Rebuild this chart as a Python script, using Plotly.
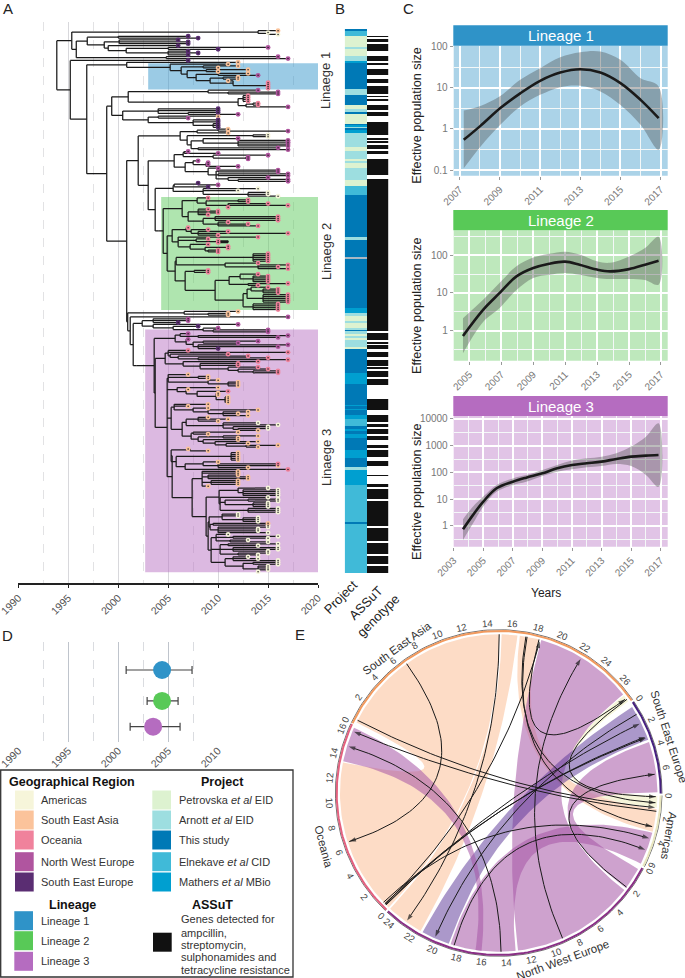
import re, math
import numpy as np
import plotly.graph_objects as go

W, H = 685, 978
FONT = "Liberation Sans"

# ---------------- colours ----------------
REGION_COL = {"A": "#F6F5DA", "S": "#FBC39B", "O": "#F0829C", "N": "#B0559F", "E": "#5A2D72"}
REGION_RIB = {"A": "rgba(243,241,205,0.75)", "S": "rgba(251,178,130,0.46)", "O": "rgba(240,130,156,0.5)",
              "N": "rgba(165,85,165,0.55)", "E": "rgba(88,50,150,0.5)"}
REGION_RIM = {"SEA": "#F29A5E", "SEE": "#46207E", "AME": "#E9E6BE", "NWE": "#8A2F86", "OCE": "#E4617F"}
LINEAGE_COL = ["#2F93C8", "#58C957", "#B56CC0"]
LINEAGE_BG = ["#ABD3E8", "#BEE8BC", "#E1C4E6"]

# ---------------- A: tree (tips = region letter + year since 2000; nodes = year) ----------------
G0 = "((S16,(A15,A16)2015)2014,(((E07,E08)2000,((E06,E07,E07)2000.1,(E06,((N15,E10)2005,(E07,E08,E07)2005)2000.8)1999)1998.6)1996.9,(N16,N17)2004.8)1995.8)1995.35"
L1 = "(S12,(S11,((S12,S10)2008.5,((S13,S10)2008.8,((S13,N14)2010,((S12,S12)2010.5,(S11,(O15,O15,O15,O15)2015)2011.5)2009.2)2007.8)2006.9)2006.3)2005.2)2000.85L1"
SUB_A = "((N14,(N16,N16)2011)2009,((O13,O13,O13,O13)2012.5,((O14,O14)2013.5,N17)2012.8)2012)2001"
SUB_B = "((E10,E10,(E10,N12)2007)2004,((S10,N07)2004,(E10,E10,(E10,E10,E10)2009.5)2007.5)2003)2000.45"
CL_C = "(((S11,N17)2010,S11)2007.9,((A15,A15)2013.5,((N12,(N17,N17,N17,N17)2012)2008.5,(N16,N17)2008)2007.3)2006.9)2006.2"
CL_D = "(((N07,N10)2006.6,(N15,(N13,N13)2012.8)2009.5)2006.5,((N08,(N09,N09,N12)2008.8)2007.5,(N10,((N16,N16)2010,(N17,N17)2010,(N15,(N17,N17)2012)2011)2009.8)2009)2006.7)2005.6"
CL_E = "(((E08,N10)2008,E09)2005.6,(A14,A12,(A15,A15,A16)2013)2008.5)2005.5"
L2_A = "((O09,((O13,O13)2012,(O15,O17,O11)2011)2008.8)2007.9,((O09,O10,O10,O09)2008,((O16,O16,O16)2009.7,(O11,O13,O14)2010)2008.5)2007)2006.4"
L2_B1 = "((O07,(O09,(O11,O17,O10)2008)2007.3)2006.8,(O14,(O09,(O10,O10)2011)2007.8,(O09,((O11,O11)2011,(O10,O10)2009)2008.7)2007.2)2006)2005.4"
L2_B2 = "((O15,O15,O15,O15,O15)2013.5,(O14,(O17,O16,O17)2014)2010.7)2005.8"
L2_C1 = "((O14,(O15,O15,O15,O15)2013.5)2012.2,(O17,O14)2013)2011.1"
L2_C2 = "(((O15,(O16,O16,O16)2014.5)2013.3,(O17,O17,O17,O17,O17)2014.5)2012.9,(O16,O16,O16,O16)2013.5)2012.5"
F_TOP = "(S12,(S11,S11)2009)2006.6"
F_B = "((N07,N07,E06)2003.5,(N12,(E08,(N10,(N15,N15)2009.5)2008.5)2005.5)2003.5)2002.4"
P1 = "((N07,(N17,N16)2008)2006.2,(N07,((N14,N12)2008.5,(N17,N16,E10)2008)2007.5)2006.8)2005.7"
P2 = "((O07,O17,(O11,(O13,(O15,O17)2008)2006)2005.2)2005,(O14,(O12,O12,(O14,(O15,(O16,O16)2013.5)2012)2011)2008.2)2006.5)2004.7"
P3A = "(S07,(S09,S09)2008,(S10,(S12,S12,S12)2011)2009)2005"
P3B = "(S10,(S07,(O11,(S10,S10,(S11,S11,S11,S11)2010.7)2009.8)2007.9)2006.8)2005.9"
P3C = "((S09,S07,(S09,(S14,(S13,S12,S13)2010.5)2009)2007.5)2005.6,(((S09,S11,S10)2008,(A14,A16,(A15,(A15,S14)2012)2011.5)2010.5)2006.8,((S12,S09)2007.5,((S14,S12)2010.5,(S12,(S14,(S13,(S16,S14)2012.8)2010.8)2009.7)2008.5)2008)2007.3)2006.4)2005.3"
P3D1 = "((S07,S09)2007.2,((S12,S12,S12,S12,S12)2011.3,((S10,(O16,S16,S13)2010)2008.5,O17)2006.7)2005.8)2005.3"
P3D2 = "(S12,S12,(S12,S13,S13)2009,(S12,S12,S12)2009.3,S09)2008.4"
A_A = "((A15,(A16,A16,A16,A16)2012.5)2012,(A15,((A16,A16)2013,(A15,A15,A15)2013.5)2010.7,(A16,A16,A16)2013)2010.2)2010.1"
A_B = "((A12,A12,(A14,A14,A14)2012.5)2010.4,((S15,A15)2009.5,(A15,A14,A14,A15)2010)2009.2)2009.1"
A_C = "((A11,(A16,A15)2011.5,(A13,A15)2011.2)2009.8,((A16,A14)2011,(A16,A16,A15)2011.5,(A15,A14)2012)2010.2,((A13,A14,A16)2011.5,((A16,A16)2013.5,(A15,A15,A15,A14)2014)2012.5)2010.7)2009.3"

L2_NODE = f"({L2_A},({L2_B1},({L2_B2},((O09,O09)2007.6,({L2_C1},{L2_C2})2009.7)2006.7)2005.7)2004.9)2004.5L2"
N465 = f"({CL_E},({L2_NODE})2004)2003.7"
N445 = f"({CL_D},{N465})2003"
N415 = f"({CL_C},{N445})2002"
P3D = f"({P3D1},({P3D2},({A_A},({A_B},{A_C})2009)2008.8)2007.4)2005.4"
P3 = f"({P3A},{P3B},{P3C},{P3D})2004.9"
L3_NODE = f"({P1},({P2},{P3})2003.7)2003.6L3"
N_LOWER = f"({F_TOP},(N17,({F_B},({L3_NODE})2001.8)2001.5)2001.2)2000.95"
TRUNK = f"({N415},{N_LOWER})2000.85"
N320 = f"(({SUB_A},{SUB_B})1999.35,{TRUNK})1998.85"
N260 = f"({L1},{N320})1996.85"
TREE = f"({G0},(E07,{N260})1995.2)1993.85"
LINEAGE_START = {"L1": 2003.0, "L2": 2004.3, "L3": 2002.7}
LINEAGE_PAD = {"L1": (-0.5, 0.6), "L2": (0.5, 0.2), "L3": (2.2, 0.3)}

# ---------------- B: strips (run ends along the tree) ----------------
PROJECT_CODE = ["T","E","P","A","P","A","M","T","A","T","P","A","T","P","T","M","A","T","M","A",
                "P","A","P","A","P","A","P","E","T","A","T","X","T"]
PROJECT_END = [33, 48, 82, 88, 108, 122, 128, 208, 224, 256, 268, 276, 282, 312, 316, 320, 325, 330, 338, 382,
               392, 418, 422, 428, 444, 480, 497, 524, 650, 660, 712, 718, 865]
PROJECT_CODE2 = ["M","A","P","A","P","A","T","A","P","A","P","A","P","T","M","T","M","T","M","T","M","E","T","M","T","M","T","M","T","A","M","E","T","E"]
PROJECT_END2 = [880, 888, 905, 910, 925, 932, 935, 942, 948, 955, 962, 982, 987, 1060, 1092, 1155, 1160, 1168, 1172,
                1186, 1197, 1218, 1228, 1233, 1242, 1255, 1292, 1314, 1342, 1350, 1397, 1506, 1512, 1660]
ASSUT_END = [48, 52, 58, 65, 71, 92, 108, 123, 128, 135, 146, 165, 176, 188, 197, 222, 228, 232, 238, 243, 255, 270,
             276, 287, 307, 344, 354, 359, 364, 370, 376, 387, 392, 403, 418, 465, 476, 933, 940, 960, 966, 972, 977,
             987, 997, 1013, 1020, 1038, 1043, 1048, 1055, 1072, 1078, 1096, 1138, 1170, 1187, 1207, 1214, 1222, 1229,
             1244, 1250, 1260, 1276, 1286, 1292, 1312, 1323, 1339, 1365, 1370, 1392, 1402, 1409, 1438, 1445, 1518,
             1524, 1565, 1571, 1603, 1609, 1634, 1640, 1660]

# ---------------- C: skyline curves ----------------
C1_YEAR = [2007.2, 2008.03, 2009.02, 2010.01, 2011, 2012, 2013, 2014, 2015, 2016, 2016.9]
C1_MED = [0.54, 1.18, 3.2, 7.3, 14.7, 23.3, 28.1, 23.3, 12.9, 5.06, 1.82]
C1_UP = [2.79, 3.6, 6.3, 15.5, 29.8, 55, 72.9, 75.7, 47.4, 17, 10.7]
C1_LOW = [0.11, 0.37, 1.25, 3.5, 6.7, 10.3, 11.1, 8.1, 3.8, 1.25, 0.31]
C2_YEAR = [2004.6, 2005.86, 2006.9, 2007.95, 2009, 2010, 2011, 2011.9, 2013, 2013.8, 2015, 2016, 2016.85]
C2_MED = [0.72, 3.56, 10, 27.6, 46, 60, 68, 56.5, 41.7, 37.4, 43, 56.5, 72]
C2_UP = [2.14, 6.6, 18.6, 51, 87, 110, 125, 105, 69, 63, 93, 157, 310]
C2_LOW = [0.25, 1.7, 4, 12, 25, 30.5, 34, 30.5, 25, 23.4, 23.4, 22, 16.6]
C3_YEAR = [2003.63, 2004.31, 2005, 2005.9, 2007, 2007.9, 2009, 2010, 2011, 2012, 2013, 2014, 2015, 2016, 2016.85]
C3_MED = [0.75, 2.6, 8.1, 25.6, 45, 64, 93, 144, 190, 220, 254, 320, 390, 425, 450]
C3_UP = [1.8, 5.3, 12.5, 34, 60, 80, 124, 190, 277, 338, 390, 523, 926, 2180, 6900]
C3_LOW = [0.3, 1.26, 5.3, 19, 34, 45, 74, 107, 131, 155, 175, 208, 175, 81, 29]

# ---------------- D: tMRCA ----------------
D_NAMES = ["Lineage 1", "Lineage 2", "Lineage 3"]
D_MEAN = [2004.4, 2004.4, 2003.5]
D_LOW = [2000.8, 2002.9, 2001.2]
D_HIGH = [2007.4, 2006.0, 2006.2]
D_ROW = [0, 1.09, 2.0]

# ---------------- E: chord ----------------
SECTORS = ["SEA", "SEE", "AME", "NWE", "OCE"]
SECTOR_LEN = {"SEA": 27.2, "SEE": 7.8, "AME": 5.9, "NWE": 24.0, "OCE": 16.2}
SECTOR_TICK_MAX = {"SEA": 26, "SEE": 6, "AME": 6, "NWE": 24, "OCE": 16}
TICK_DEG = {"SEA": 4.33, "SEE": 4.24, "AME": 4.05, "NWE": 4.27, "OCE": 4.28}
SECTOR_LABEL = {"SEA": ("South East Asia", 6.7, 1.084, -36), "SEE": ("South East Europe", 3.6, 1.10, 72),
                "AME": ("Americas", 3.0, 1.075, 100), "NWE": ("North West Europe", 9.4, 1.096, -20),
                "OCE": ("Oceania", 6.6, 1.12, 75)}
RIBBONS = [("SEA", 0.2, 14.7, "OCE", 0.0, 13.0, "S"),
           ("SEA", 14.9, 16.2, "NWE", 20.9, 24.0, "S"),
           ("SEA", 16.4, 18.0, "AME", 1.1, 3.0, "S"),
           ("SEA", 26.5, 27.1, "AME", 0.0, 1.0, "A"),
           ("SEA", 18.2, 26.4, "NWE", 2.3, 12.6, "N"),
           ("SEE", 3.5, 7.7, "NWE", 0.2, 2.1, "N"),
           ("AME", 3.1, 5.8, "NWE", 12.8, 18.2, "N"),
           ("SEE", 0.3, 3.3, "NWE", 18.3, 20.7, "E"),
           ("NWE", 15.6, 16.1, "OCE", 13.1, 16.0, "N")]
LINKS = [("SEA", 6.6, "OCE", 6.4), ("SEA", 0.4, "AME", 1.0), ("AME", 1.3, "OCE", 15.7), ("NWE", 14.0, "OCE", 14.4),
         ("SEA", 14.7, "NWE", 22.3), ("OCE", 0.4, "SEA", 18.1), ("SEA", 17.0, "AME", 2.6), ("NWE", 8.8, "SEA", 21.8),
         ("SEA", 18.0, "SEA", 26.8), ("OCE", 0.35, "SEE", 3.0), ("OCE", 0.45, "SEE", 3.1), ("OCE", 0.3, "SEE", 1.8),
         ("NWE", 2.0, "SEE", 6.2), ("SEA", 26.9, "AME", 0.1), ("SEE", 1.0, "NWE", 19.6), ("OCE", 0.6, "AME", 3.6),
         ("NWE", 17.9, "AME", 4.6), ("SEA", 16.9, "AME", 0.6)]

# ---------------- legend text ----------------
LEG_REGION = [("Americas", "A"), ("South East Asia", "S"), ("Oceania", "O"), ("North West Europe", "N"), ("South East Europe", "E")]
LEG_PROJECT = [("Petrovska <i>et al</i> EID", "P"), ("Arnott <i>et al</i> EID", "A"), ("This study", "T"),
               ("Elnekave <i>et al</i> CID", "E"), ("Mathers <i>et al</i> MBio", "M")]
ASSUT_LINES = ["Genes detected for", "ampcillin,", "streptomycin,", "sulphonamides and", "tetracycline resistance"]
PROJECT_COL = {"P": "#DDF2D0", "A": "#9DDEE0", "T": "#0079B6", "E": "#40BAD8", "M": "#009FD0", "X": "#A9B8C4"}


def px(x): return x / W
def py(y): return 1 - y / H
def xdom(a, b): return [px(a), px(b)]
def ydom(t, b): return [py(b), py(t)]


# ---------- tree parser / layout ----------
def parse(s):
    pos = 0

    def node():
        nonlocal pos
        if s[pos] == "(":
            pos += 1
            kids = [node()]
            while s[pos] == ",":
                pos += 1
                kids.append(node())
            pos += 1
            m = re.match(r"(\d{4}(?:\.\d+)?)(L\d)?", s[pos:])
            pos += m.end()
            return dict(year=float(m.group(1)), tag=m.group(2), kids=kids)
        reg, yr = s[pos], int(s[pos + 1:pos + 3])
        pos += 3
        return dict(year=2000 + yr, region=reg, kids=[], tag=None)

    return node()


root = parse(TREE)
tips, lx, ly, tags = [], [], [], {}


def place(n):
    if not n["kids"]:
        n["y"] = len(tips)
        n["rows"] = (n["y"], n["y"])
        tips.append(n)
    else:
        for k in n["kids"]:
            place(k)
        n["y"] = (n["kids"][0]["y"] + n["kids"][-1]["y"]) / 2
        n["rows"] = (n["kids"][0]["rows"][0], n["kids"][-1]["rows"][1])
        if n["tag"]:
            tags[n["tag"]] = n["rows"]


def segs(n, parent_year=None):
    if parent_year is not None:
        lx.extend([parent_year, n["year"], None])
        ly.extend([n["y"], n["y"], None])
    if n["kids"]:
        lx.extend([n["year"], n["year"], None])
        ly.extend([n["kids"][0]["y"], n["kids"][-1]["y"], None])
        for k in n["kids"]:
            segs(k, n["year"])


place(root)
segs(root)
NT = len(tips)
row_px = (571.67 - 30.67) / (NT - 1)
TREE_TOP, TREE_BOT = 22.0, 583.0
tree_range = [(TREE_BOT - 30.67) / row_px, (TREE_TOP - 30.67) / row_px]

fig = go.Figure()
shapes, annos = [], []
layout = {}


def label(x, y, text, size=11, color="#333", angle=0, xanchor="center", yanchor="middle", bold=False):
    annos.append(dict(xref="paper", yref="paper", x=px(x), y=py(y), text=f"<b>{text}</b>" if bold else text,
                      showarrow=False, font=dict(size=size, color=color, family=FONT), textangle=angle,
                      xanchor=xanchor, yanchor=yanchor))


def paper_rect(x0, y0, x1, y1, fill, line=None, lw=0, layer="above"):
    shapes.append(dict(type="rect", xref="paper", yref="paper", x0=px(x0), x1=px(x1), y0=py(y0), y1=py(y1),
                       fillcolor=fill, line=dict(color=line or fill, width=lw), layer=layer))


BLANK = dict(showgrid=False, zeroline=False, showticklabels=False, ticks="", showline=False, fixedrange=True)
TICKFONT = dict(size=10.5, color="#555", family=FONT)

# ----- Panel A -----
layout["xaxis"] = dict(domain=xdom(18.33, 318), range=[1990, 2020], tick0=1990, dtick=5, showgrid=True,
                       gridcolor="#D8D8DC", gridwidth=1.4, griddash="solid", zeroline=False,
                       showline=True, linecolor="#222", linewidth=1.6, ticks="outside", ticklen=3, tickcolor="#222",
                       tickangle=-45, tickfont=TICKFONT, anchor="y", ticklabeloverflow="allow",
                       minor=dict(dtick=2.5, tick0=1990, showgrid=True, gridcolor="#E2E2E4", griddash="dash", gridwidth=1, ticks=""))
layout["yaxis"] = dict(BLANK, domain=ydom(TREE_TOP, TREE_BOT), range=tree_range, anchor="x")
for i, tag in enumerate(["L1", "L2", "L3"]):
    r0, r1 = tags[tag]
    pt, pb = LINEAGE_PAD[tag]
    shapes.append(dict(type="rect", xref="x", yref="y", x0=LINEAGE_START[tag], x1=2020, y0=r0 - pt, y1=r1 + pb,
                       fillcolor=LINEAGE_COL[i], opacity=0.48, line=dict(width=0), layer="between"))
fig.add_trace(go.Scatter(x=lx, y=ly, mode="lines", line=dict(color="#1a1a1a", width=1.25), hoverinfo="skip", showlegend=False))
for reg, col in REGION_COL.items():
    t = [n for n in tips if n["region"] == reg]
    fig.add_trace(go.Scatter(x=[n["year"] for n in t], y=[n["y"] for n in t], mode="markers",
                             marker=dict(size=4.8, color=col, line=dict(width=0)), hoverinfo="skip", showlegend=False))
fig.add_trace(go.Scatter(x=[n["year"] for n in tips], y=[n["y"] for n in tips], mode="markers",
                         marker=dict(size=1.5, color="#222"), hoverinfo="skip", showlegend=False))
label(326, 81, "Linaege 1", 13, "#333", -90)
label(326, 252, "Linaege 2", 13, "#333", -90)
label(326, 458, "Linaege 3", 13, "#333", -90)

# ----- Panel B -----
CODE_VAL = {"W": 0, "P": 1, "A": 2, "T": 3, "E": 4, "M": 5, "K": 6, "X": 7}
ST_TOP, ST_BOT = 27, 1660
proj = np.zeros(ST_BOT - ST_TOP, dtype=int)
start = 28
for c, e in zip(PROJECT_CODE + PROJECT_CODE2, PROJECT_END + PROJECT_END2):
    proj[start - ST_TOP:e - ST_TOP] = CODE_VAL[c]
    start = e
ass = np.zeros(ST_BOT - ST_TOP, dtype=int)
start, black = 28, False
for e in ASSUT_END:
    if black:
        ass[start - ST_TOP:e - ST_TOP] = CODE_VAL["K"]
    start, black = e, not black
cols = ["#FFFFFF", PROJECT_COL["P"], PROJECT_COL["A"], PROJECT_COL["T"], PROJECT_COL["E"], PROJECT_COL["M"], "#111111", PROJECT_COL["X"]]
cs = []
for i, c in enumerate(cols):
    cs += [[i / 8, c], [(i + 1) / 8, c]]
fig.add_trace(go.Heatmap(z=np.column_stack([proj, ass]), x=[0, 1], y=np.arange(ST_TOP, ST_BOT) + 0.5, zmin=0, zmax=8,
                         colorscale=cs, showscale=False, hoverinfo="skip", xaxis="x2", yaxis="y2"))
layout["xaxis2"] = dict(BLANK, domain=xdom(344.7, 388.3), range=[-0.5, 1.5], anchor="y2")
layout["yaxis2"] = dict(BLANK, domain=ydom(20 + ST_TOP / 3, 20 + ST_BOT / 3), range=[ST_BOT, ST_TOP], anchor="x2")
label(340, 597, "Project", 13, "#222", -45)
label(365, 603, "ASSuT", 13, "#222", -45)
label(378, 615, "genotype", 13, "#222", -45)

# ----- Panel C -----
C_PANELS = [
    dict(t=45.7, b=175.7, head=(25.3, 45.7), xr=[2006.7, 2017.35], t0=2007, yr=[-1.138, 2.02], ticks=[0.1, 1, 10, 100], yr_pos=115.7,
         year=C1_YEAR, med=C1_MED, up=C1_UP, low=C1_LOW),
    dict(t=230.2, b=360.7, head=(210, 230.2), xr=[2004.02, 2017.42], t0=2005, yr=[-0.8, 2.667], ticks=[1, 10, 100], yr_pos=306,
         year=C2_YEAR, med=C2_MED, up=C2_UP, low=C2_LOW),
    dict(t=416, b=546.7, head=(396, 416), xr=[2003, 2017.47], t0=2003, yr=[-0.775, 4.11], ticks=[1, 10, 100, 1000, 10000], yr_pos=492,
         year=C3_YEAR, med=C3_MED, up=C3_UP, low=C3_LOW)]
for i, p in enumerate(C_PANELS):
    n = i + 3
    xa, ya = f"x{n}", f"y{n}"
    layout[f"xaxis{n}"] = dict(domain=xdom(453.7, 667.7), range=p["xr"], tick0=p["t0"], dtick=2, showgrid=True, gridcolor="#FFFFFF",
                               gridwidth=1.6, zeroline=False, ticks="outside", ticklen=3, tickcolor="#999", tickangle=-45,
                               tickfont=dict(size=10, color="#777", family=FONT), anchor=ya, ticklabeloverflow="allow",
                               minor=dict(dtick=1, tick0=p["t0"], showgrid=True, gridcolor="#F4F8F8", gridwidth=1, ticks=""))
    half = [10 ** (math.log10(v) + 0.5) for v in p["ticks"]] + [p["ticks"][0] / 10 ** 0.5]
    layout[f"yaxis{n}"] = dict(domain=ydom(p["t"], p["b"]), type="log", range=p["yr"], tickmode="array", tickvals=p["ticks"],
                               ticktext=[f"{v:g}" for v in p["ticks"]], showgrid=True, gridcolor="#FFFFFF", gridwidth=1.6,
                               zeroline=False, ticks="outside", ticklen=3, tickcolor="#999",
                               tickfont=dict(size=10, color="#777", family=FONT), anchor=xa,
                               minor=dict(tickmode="array", tickvals=half, showgrid=True, gridcolor="#F4F8F8", gridwidth=1, ticks=""))
    shapes.append(dict(type="rect", xref="paper", yref="paper", x0=px(453.7), x1=px(667.7), y0=py(p["b"]), y1=py(p["t"]),
                       fillcolor=LINEAGE_BG[i], line=dict(width=0), layer="below"))
    paper_rect(453.3, p["head"][0], 667.7, p["head"][1], LINEAGE_COL[i])
    label(560.5, (p["head"][0] + p["head"][1]) / 2, f"Lineage {i + 1}", 15, "#FFFFFF")
    label(417, p["yr_pos"], "Effective population size", 12.7, "#222", -90)
    fig.add_trace(go.Scatter(x=p["year"] + p["year"][::-1], y=p["up"] + p["low"][::-1], fill="toself", mode="lines",
                             line=dict(width=0, shape="spline"), fillcolor="rgba(70,70,70,0.36)", hoverinfo="skip",
                             showlegend=False, xaxis=xa, yaxis=ya))
    fig.add_trace(go.Scatter(x=p["year"], y=p["med"], mode="lines", line=dict(color="#1a1a1a", width=2.6, shape="spline"),
                             hoverinfo="skip", showlegend=False, xaxis=xa, yaxis=ya))
label(546, 592.7, "Years", 12, "#222")

# ----- Panel D -----
layout["xaxis6"] = dict(domain=xdom(18.33, 218), range=[1990, 2010], tick0=1990, dtick=5, showgrid=True, gridcolor="#BFC4CC",
                        gridwidth=1.2, zeroline=False, showline=False, ticks="", tickangle=-45, tickfont=TICKFONT, anchor="y6",
                        ticklabeloverflow="allow",
                        minor=dict(dtick=2.5, tick0=1990, showgrid=True, gridcolor="#DADCE0", griddash="dash", gridwidth=1, ticks=""))
layout["yaxis6"] = dict(BLANK, domain=ydom(642, 741.7), range=[2.53, -0.988], anchor="x6")
fig.add_trace(go.Scatter(x=D_MEAN, y=D_ROW, mode="markers",
                         error_x=dict(type="data", symmetric=False, array=[h - m for h, m in zip(D_HIGH, D_MEAN)],
                                      arrayminus=[m - l for l, m in zip(D_LOW, D_MEAN)], color="#444", thickness=1.2, width=4),
                         marker=dict(size=18, color=LINEAGE_COL, line=dict(width=0)), text=D_NAMES, hoverinfo="skip",
                         showlegend=False, xaxis="x6", yaxis="y6"))

# ----- Legend box -----
paper_rect(0.7, 770, 293, 977, "rgba(0,0,0,0)", "#333", 1.3)
label(72, 781.7, "Geographical Region", 12.5, "#111", bold=True)
label(222, 781.7, "Project", 12.5, "#111", bold=True)
label(72, 905.3, "Lineage", 12.5, "#111", bold=True)
label(213, 905.3, "ASSuT", 12.5, "#111", bold=True)
REG_Y = [800, 820, 840, 861.7, 882]
for (txt, code), yy in zip(LEG_REGION, REG_Y):
    paper_rect(15, yy - 9.5, 33.7, yy + 9.5, REGION_COL[code])
    label(39, yy, txt, 11, "#333", xanchor="left")
for (txt, code), yy in zip(LEG_PROJECT, REG_Y):
    paper_rect(152.3, yy - 9.5, 171, yy + 9.5, PROJECT_COL[code])
    label(177, yy, txt, 11, "#333", xanchor="left")
for i, yy in enumerate([920.7, 940.7, 961.3]):
    paper_rect(14.3, yy - 9.5, 33, yy + 9.5, LINEAGE_COL[i])
    label(39, yy, D_NAMES[i], 11, "#333", xanchor="left")
paper_rect(153, 932.7, 171.7, 951.7, "#111111")
for txt, yy in zip(ASSUT_LINES, [919.3, 932.7, 945, 957.3, 970]):
    label(179.3, yy, txt, 11, "#333", xanchor="left")

# ----- Panel E -----
DEG = 4.4
GAP = 0.7
sec_start, th = {}, 295.5
for s in SECTORS:
    sec_start[s] = th
    th += SECTOR_LEN[s] * DEG + GAP


def polar(sec, pos, r, deg=DEG):
    a = math.radians(sec_start[sec] + pos * deg)
    return r * math.sin(a), r * math.cos(a)


def arc(sec, p0, p1, r, n=40):
    pts = [polar(sec, v, r) for v in np.linspace(p0, p1, n)]
    return [q[0] for q in pts], [q[1] for q in pts]


def bez(a, b, n=60):
    t = np.linspace(0, 1, n)
    return list((1 - t) ** 2 * a[0] + t ** 2 * b[0]), list((1 - t) ** 2 * a[1] + t ** 2 * b[1])


CX, CY, RIM = 498.7, 793.0, 163.3
EL, ER, ET, EB = 318.0, 684.0, 612.0, 977.0
layout["xaxis7"] = dict(BLANK, domain=xdom(EL, ER), range=[(EL - CX) / RIM, (ER - CX) / RIM], anchor="y7")
layout["yaxis7"] = dict(BLANK, domain=ydom(ET, EB), range=[(CY - EB) / RIM, (CY - ET) / RIM], anchor="x7")
RL = 0.972
for sa, a0, a1, sb, b0, b1, reg in RIBBONS:
    x1, y1 = arc(sa, a0, a1, RL)
    x2, y2 = bez(polar(sa, a1, RL), polar(sb, b0, RL))
    x3, y3 = arc(sb, b0, b1, RL)
    x4, y4 = bez(polar(sb, b1, RL), polar(sa, a0, RL))
    fig.add_trace(go.Scatter(x=x1 + x2 + x3 + x4, y=y1 + y2 + y3 + y4, mode="lines", fill="toself", fillcolor=REGION_RIB[reg],
                             line=dict(width=0), hoverinfo="skip", showlegend=False, xaxis="x7", yaxis="y7"))
for sa, pa, sb, pb in LINKS:
    bx, by = bez(polar(sa, pa, RL), polar(sb, pb, RL - 0.01))
    sizes = [0] * (len(bx) - 1) + [7]
    fig.add_trace(go.Scatter(x=bx, y=by, mode="lines+markers", line=dict(color="#1a1a1a", width=1),
                             marker=dict(symbol="arrow", size=sizes, color="#1a1a1a", angleref="previous", line=dict(width=0)),
                             hoverinfo="skip", showlegend=False, xaxis="x7", yaxis="y7"))
for s in SECTORS:
    ax, ay = arc(s, 0, SECTOR_LEN[s], 1.0, 80)
    fig.add_trace(go.Scatter(x=ax, y=ay, mode="lines", line=dict(color="#333", width=0.7), hoverinfo="skip", showlegend=False,
                             xaxis="x7", yaxis="y7"))
    ax, ay = arc(s, 0, SECTOR_LEN[s], 0.992, 80)
    fig.add_trace(go.Scatter(x=ax, y=ay, mode="lines", line=dict(color=REGION_RIM[s], width=2), hoverinfo="skip", showlegend=False,
                             xaxis="x7", yaxis="y7"))
    for v in range(0, SECTOR_TICK_MAX[s] + 1, 2):
        q = polar(s, v, 1.04, TICK_DEG[s])
        th_deg = (sec_start[s] + v * TICK_DEG[s]) % 360
        ang = th_deg - 180 if 117 <= th_deg < 270 else (th_deg if th_deg <= 180 else th_deg - 360)
        annos.append(dict(xref="x7", yref="y7", x=q[0], y=q[1], text=str(v), showarrow=False, textangle=ang,
                          font=dict(size=9.5, color="#444", family=FONT), xanchor="center", yanchor="middle"))
    name, pos, r, ang = SECTOR_LABEL[s]
    q = polar(s, pos, r)
    annos.append(dict(xref="x7", yref="y7", x=q[0], y=q[1], text=name, showarrow=False, textangle=ang,
                      font=dict(size=11.5, color="#333", family=FONT), xanchor="center", yanchor="middle"))

# ----- panel letters -----
for t, x, y in [("A", 8, 9), ("B", 340, 9), ("C", 408, 9), ("D", 7, 635), ("E", 300, 634)]:
    label(x, y, t, 15, "#222")

fig.update_layout(width=W, height=H, margin=dict(l=0, r=0, t=0, b=0, autoexpand=False), paper_bgcolor="white",
                  plot_bgcolor="rgba(0,0,0,0)", showlegend=False, shapes=shapes, annotations=annos,
                  font=dict(family=FONT), **layout)
fig.write_html("out.html", config={"displayModeBar": False},
               post_script="document.body.style.margin='0';document.documentElement.style.overflow='hidden';")
